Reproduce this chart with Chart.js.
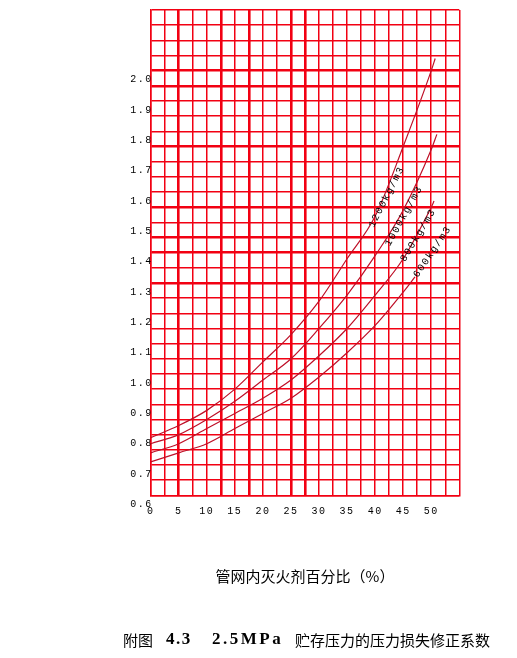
<!DOCTYPE html>
<html><head><meta charset="utf-8">
<script src="https://cdn.jsdelivr.net/npm/chart.js@4"></script>
<style>html,body{margin:0;padding:0;background:#fff;}canvas{display:block;}</style>
</head><body>
<canvas id="c" width="517" height="658"></canvas>
<script>
// ---- data ----
const seriesNames = ['1200kg/m3', '1000kg/m3', '800kg/m3', '600kg/m3'];
const pct1200  = [0, 5, 10, 15, 20, 25, 30, 35, 40, 45, 50, 50.7];
const coef1200 = [0.79, 0.83, 0.88, 0.95, 1.04, 1.13, 1.24, 1.38, 1.52, 1.75, 2.00, 2.04];
const pct1000  = [0, 5, 10, 15, 20, 25, 30, 35, 40, 45, 50, 51];
const coef1000 = [0.77, 0.80, 0.85, 0.91, 0.98, 1.05, 1.15, 1.26, 1.39, 1.54, 1.74, 1.79];
const pct800   = [0, 5, 10, 15, 20, 25, 30, 35, 40, 45, 50, 50.5];
const coef800  = [0.74, 0.77, 0.82, 0.87, 0.92, 0.98, 1.06, 1.15, 1.26, 1.38, 1.55, 1.57];
const pct600   = [0, 5, 10, 15, 20, 25, 30, 35, 40, 45, 47.1];
const coef600  = [0.71, 0.74, 0.77, 0.82, 0.87, 0.92, 0.99, 1.07, 1.16, 1.27, 1.32];
const xTickLabels = [0, 5, 10, 15, 20, 25, 30, 35, 40, 45, 50];
const yTickLabels = [0.6, 0.7, 0.8, 0.9, 1.0, 1.1, 1.2, 1.3, 1.4, 1.5, 1.6, 1.7, 1.8, 1.9, 2.0];
const thickX = [5, 12.5, 17.5, 25, 27.5];
const thickY = [1.30, 1.40, 1.45, 1.55, 1.75, 1.95, 2.00];
const xAxisTitle = '管网内灭火剂百分比（%）';
const captionParts = ['附图', '4.3', '2.5MPa', '贮存压力的压力损失修正系数'];

// ---- layout / style ----
const curveLabelPlacement = [
  {x: 42.05, y: 1.584, angle: -63},
  {x: 45.13, y: 1.521, angle: -61},
  {x: 47.68, y: 1.458, angle: -59},
  {x: 50.21, y: 1.403, angle: -56}
];
const GRID = 'rgb(242,0,18)';
const CURVE = 'rgb(190,16,40)';
const near = (a, b) => Math.abs(a - b) < 1e-6;

function pts(xs, ys) { return xs.map((x, i) => ({x: x, y: ys[i]})); }
const allX = [pct1200, pct1000, pct800, pct600];
const allY = [coef1200, coef1000, coef800, coef600];

const spacingPlugin = {
  id: 'spacing',
  beforeDraw(chart) { chart.ctx.letterSpacing = '1.5px'; }
};

const textPlugin = {
  id: 'texts',
  afterDatasetsDraw(chart) {
    const ctx = chart.ctx, xs = chart.scales.x, ys = chart.scales.y;
    ctx.save();
    ctx.fillStyle = '#000';
    ctx.font = '10px "Liberation Mono"';
    ctx.letterSpacing = '1.5px';
    ctx.textAlign = 'center';
    ctx.textBaseline = 'middle';
    seriesNames.forEach((name, i) => {
      const p = curveLabelPlacement[i];
      ctx.save();
      ctx.translate(xs.getPixelForValue(p.x), ys.getPixelForValue(p.y));
      ctx.rotate(p.angle * Math.PI / 180);
      ctx.fillText(name, 0, 0);
      ctx.restore();
    });
    ctx.restore();
  },
  afterDraw(chart) {
    const ctx = chart.ctx;
    ctx.save();
    ctx.letterSpacing = '0px';
    ctx.fillStyle = '#000';
    ctx.textBaseline = 'middle';
    ctx.textAlign = 'center';
    ctx.font = '15px "Noto Sans CJK SC"';
    ctx.fillText(xAxisTitle, 305, 576);
    ctx.textAlign = 'left';
    ctx.font = '15px "Noto Sans CJK SC"';
    ctx.fillText(captionParts[0], 123, 640);
    ctx.font = 'bold 17px "Liberation Serif"';
    ctx.letterSpacing = '1.5px';
    ctx.fillText(captionParts[1], 166, 640);
    ctx.letterSpacing = '2.5px';
    ctx.fillText(captionParts[2], 212, 640);
    ctx.letterSpacing = '0px';
    ctx.font = '15px "Noto Sans CJK SC"';
    ctx.fillText(captionParts[3], 295, 640);
    ctx.restore();
  }
};

new Chart(document.getElementById('c'), {
  type: 'line',
  data: {
    datasets: seriesNames.map((n, i) => ({
      label: n,
      data: pts(allX[i], allY[i]),
      borderColor: CURVE,
      borderWidth: 1.2,
      pointRadius: 0,
      fill: false,
      cubicInterpolationMode: 'monotone'
    }))
  },
  options: {
    responsive: false,
    devicePixelRatio: 1,
    animation: false,
    layout: {padding: {left: 0, top: 10, right: 57.7, bottom: 132.7}},
    plugins: {legend: {display: false}, tooltip: {enabled: false}},
    scales: {
      x: {
        type: 'linear', min: 0, max: 55,
        afterFit(s) { s.height = 30; },
        ticks: {
          stepSize: 2.5, autoSkip: false, maxRotation: 0, padding: 10,
          color: '#000', font: {family: 'Liberation Mono', size: 10},
          callback: v => xTickLabels.some(t => near(t, v)) ? String(Math.round(v)) : ''
        },
        grid: {
          color: GRID, drawTicks: false,
          lineWidth: c => thickX.some(t => near(t, c.tick.value)) ? 2.6 : 1.5
        },
        border: {display: true, color: GRID, width: 1.5}
      },
      y: {
        type: 'linear', min: 0.6, max: 2.2,
        afterFit(s) { s.width = 150.7; },
        ticks: {
          stepSize: 0.05, autoSkip: false, padding: -2, labelOffset: 9,
          color: '#000', font: {family: 'Liberation Mono', size: 10},
          callback: v => yTickLabels.some(t => near(t, v)) ? v.toFixed(1) : ''
        },
        grid: {
          color: GRID, drawTicks: false,
          lineWidth: c => thickY.some(t => near(t, c.tick.value)) ? 2.6 : 1.5
        },
        border: {display: true, color: GRID, width: 1.5}
      }
    }
  },
  plugins: [spacingPlugin, textPlugin]
});
</script>
</body></html>
